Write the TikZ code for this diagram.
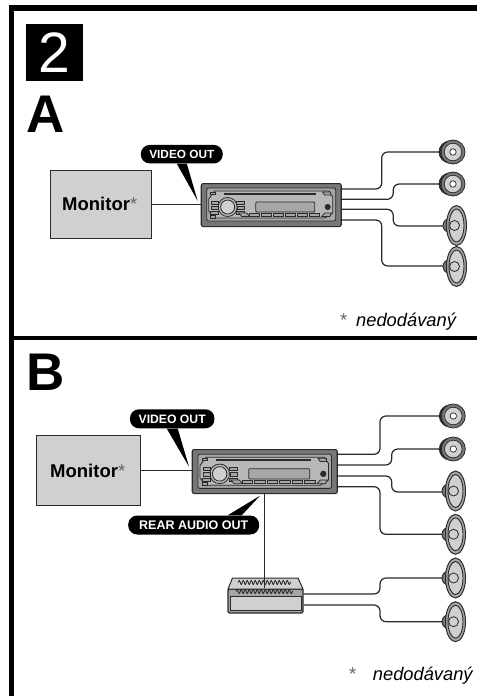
\documentclass[tikz,border=0pt]{standalone}
\usepackage{fontspec}
\setmainfont{Liberation Sans}
\usetikzlibrary{positioning,shapes.geometric,decorations.pathmorphing}
\definecolor{boxgray}{HTML}{D0D0D2}
\definecolor{wiregray}{HTML}{2A2A2A}
\definecolor{platemid}{HTML}{A6A6A8}
\definecolor{platedark}{HTML}{77777A}
\newcommand{\fsize}[1]{\fontsize{#1}{#1}\selectfont}

% front of the head unit, drawn over its body node
\newcommand{\radioface}[3]{
  \begin{scope}[shift={(#1,#2)},scale=#3,facepart/.style={draw=wiregray,line width=0.8pt,fill=platemid}]
    \draw [facepart,rounded corners=2pt] (6,5) -- (135,5) -- (135,38) -- (6,38) -- cycle;
    \draw [facepart,fill=platemid!80] (8,16) -- (14,8) -- (128,8) -- (132,14) -- (132,30) -- (124,35) -- (14,35) -- (8,28) -- cycle;
    \fill [wiregray] (23,9.5) rectangle (115,12);
    \draw [facepart,rounded corners=1pt] (55,19) rectangle (114,29);
    \draw [facepart,fill=boxgray] (27,24) circle (7);
    \draw [facepart,fill=none] (27,24) circle (9.5);
    \draw [facepart] (11,18) rectangle (18,21) (11,23) rectangle (18,26) (10,28) rectangle (18,31);
    \draw [facepart] (36,18) rectangle (44,21) (37,23) rectangle (44,26) (36,28) rectangle (44,31);
    \draw [facepart] (10,9) -- (15,9) -- (15,11) -- (10,11) -- cycle;
    \draw [facepart] (10,32) -- (15,32) -- (15,35) -- (10,35) -- cycle;
    \draw [facepart] (122,9) -- (130,9) -- (130,12) -- (124,12) -- cycle;
    \draw [facepart] (38,30) -- (46,30) -- (49,33.5) -- (41,33.5) -- cycle;
    \draw [facepart] (49,30) rectangle (59,33.5) (61,30) rectangle (71,33.5) (73,30) rectangle (83,33.5);
    \draw [facepart] (85,30) rectangle (95,33.5) (97,30) rectangle (107,33.5) (109,30) rectangle (119,33.5);
    \draw [facepart] (121,33.5) -- (124,30) -- (131,30) -- (129,33.5) -- cycle;
    \draw [facepart,fill=wiregray] (127,24) circle (2.6);
  \end{scope}
}

% round speaker: the node is the magnet behind the rim, the wire ends there
\newcommand{\roundspk}[3]{
  \node [circle,draw=wiregray,fill=wiregray,line width=0.8pt,minimum size=22pt,inner sep=0pt] (#1) at (#2-2,#3) {};
  \draw [draw=wiregray,fill=platedark,line width=0.8pt] (#2+1,#3) circle (12);
  \draw [draw=wiregray,fill=boxgray,line width=0.7pt] (#2+1,#3) circle (8.8);
  \draw [draw=wiregray,fill=white,line width=0.7pt] (#2+1,#3) circle (3.2);
}

% oval speaker: the node is the magnet behind the cone
\newcommand{\ovalspk}[3]{
  \node [circle,draw=wiregray,fill=platedark,line width=0.9pt,minimum size=14pt,inner sep=0pt] (#1) at (#2-5,#3) {};
  \draw [draw=wiregray,fill=platemid,line width=1pt] (#2+1.5,#3) ellipse (10 and 20);
  \draw [draw=wiregray,fill=boxgray,line width=0.9pt] (#2+1.5,#3) ellipse (7.5 and 16.5);
  \draw [draw=wiregray,fill=boxgray,line width=0.8pt] (#2-0.5,#3) circle (5);
}

\begin{document}
\begin{tikzpicture}[x=1pt,y=-1pt,
    wire/.style={draw=wiregray,line width=1.25pt,rounded corners=6pt},
    tvbox/.style={draw=wiregray,fill=boxgray,line width=1pt,inner sep=0pt},
    bodybox/.style={draw=wiregray,fill=platedark,line width=1.1pt,rounded corners=2pt,inner sep=0pt,anchor=north west},
    pill/.style={fill=black,text=white,rounded corners=9pt,inner sep=0pt,font=\bfseries},
    bigletter/.style={inner sep=0pt,font=\fsize{53}\bfseries,anchor=base west},
    tvlabel/.style={inner sep=0pt,font=\fsize{18.5}\bfseries,anchor=base west},
    remark/.style={inner sep=0pt,font=\fsize{18.3}\itshape,anchor=base west},
    star/.style={inner sep=0pt,text=black!60,font=\fsize{18.5},anchor=base west}]

  \useasboundingbox (0,0) rectangle (477,696);

  % frame and divider
  \fill [black] (9,5) rectangle (477,10.5);
  \fill [black] (9,5) rectangle (14,696);
  \fill [black] (9,336) rectangle (477,339.5);

  \node [fill=black,text=white,minimum size=57pt,inner sep=0pt,font=\fsize{57}] (stepno) at (54.5,52.5) {2};
  \node [bigletter] (partA) at (26.5,132) {A};
  \node [bigletter] (partB) at (26,390) {B};

  % part A
  \node [tvbox,minimum width=101pt,minimum height=68pt] (monA) at (101.2,204.8) {};
  \node [tvlabel] (monAtext) at (62,210.5) {Monitor};
  \node [star] (monAstar) at (130,210.5) {*};

  \node [bodybox,minimum width=140pt,minimum height=43pt] (radioA) at (200.7,183) {};
  \radioface{200.7}{183}{1}
  \draw [wire] (monA.east) -- (monA.east -| radioA.west);

  \node [pill,minimum width=82pt,minimum height=18.5pt,font=\fsize{11.8}\bfseries] (vidA) at (181.8,154.2) {VIDEO OUT};
  \coordinate (tipA) at (197.7,201);
  \fill [black] ([xshift=-5pt]vidA.south) -- (tipA) -- ([xshift=5pt]vidA.south) -- cycle;

  \coordinate (outA1) at (340.7,189);
  \coordinate (outA2) at (340.7,199.3);
  \coordinate (outA3) at (340.7,209.3);
  \coordinate (outA4) at (340.7,220);
  \draw [wire] (outA1) -- ++(41,0) |- (448,152);
  \draw [wire] (outA2) -- ++(52.5,0) |- (448,184);
  \draw [wire] (outA3) -- ++(52.5,0) |- (450,226);
  \draw [wire] (outA4) -- ++(41,0) |- (450,266);

  \roundspk{spkA1}{452}{152}
  \roundspk{spkA2}{452}{184}
  \ovalspk{spkA3}{455}{225.5}
  \ovalspk{spkA4}{455}{266.5}

  \node [star] (remAstar) at (340,326.5) {*};
  \node [remark] (remA) at (356,326.5) {nedodávaný};

  % part B
  \node [tvbox,minimum width=104pt,minimum height=70pt] (monB) at (88.7,470.7) {};
  \node [tvlabel] (monBtext) at (50,477.7) {Monitor};
  \node [star] (monBstar) at (118,477.7) {*};

  \node [bodybox,minimum width=145pt,minimum height=44pt] (radioB) at (191.7,449) {};
  \radioface{191.7}{449}{1.036}
  \draw [wire] (monB.east) -- (monB.east -| radioB.west);

  \node [pill,minimum width=84.5pt,minimum height=19pt,font=\fsize{12.2}\bfseries] (vidB) at (172.2,418.8) {VIDEO OUT};
  \coordinate (tipB) at (189,466.7);
  \fill [black] ([xshift=-5.5pt]vidB.south) -- (tipB) -- ([xshift=5.5pt]vidB.south) -- cycle;

  \node [pill,minimum width=131pt,minimum height=19pt,font=\fsize{12.5}\bfseries] (rearB) at (193.7,525) {REAR AUDIO OUT};
  \coordinate (tipR) at (260,495.7);
  \fill [black] ([xshift=34pt]rearB.north) -- (tipR) -- ([xshift=48pt]rearB.north) -- cycle;

  % amplifier
  \node [draw=wiregray,fill=platemid,line width=1.1pt,rounded corners=1.5pt,inner sep=0pt,
         minimum width=75pt,minimum height=24pt] (ampB) at (265.5,601) {};
  \draw [draw=wiregray,fill=boxgray,line width=1pt] (228,589) -- (232.5,578) -- (298,578) -- (303,589) -- cycle;
  \draw [draw=wiregray,fill=boxgray,line width=1pt] (230,596) rectangle (301,610);
  \draw [wiregray,line width=0.9pt,decorate,decoration={snake,amplitude=2pt,segment length=4pt}] (238,582.5) -- (291,582.5);
  \draw [wiregray,line width=0.9pt,decorate,decoration={snake,amplitude=2pt,segment length=4pt}] (236,591.5) -- (293,591.5);
  \draw [wire] (radioB.south) -- (radioB.south |- ampB.north);

  \coordinate (outB1) at (336.7,454.3);
  \coordinate (outB2) at (336.7,465);
  \coordinate (outB3) at (336.7,476);
  \coordinate (outB4) at (336.7,486.7);
  \draw [wire] (outB1) -- ++(43.3,0) |- (448,416);
  \draw [wire] (outB2) -- ++(55,0) |- (448,449);
  \draw [wire] (outB3) -- ++(55,0) |- (450,492);
  \draw [wire] (outB4) -- ++(43.3,0) |- (450,534.3);
  \coordinate (outB5) at (ampB.east |- 0,594);
  \coordinate (outB6) at (ampB.east |- 0,605);
  \draw [wire] (outB5) -- (380,594) |- (450,578);
  \draw [wire] (outB6) -- (380,605) |- (450,621.7);

  \roundspk{spkB1}{452.3}{416}
  \roundspk{spkB2}{452.3}{449}
  \ovalspk{spkB3}{454}{491}
  \ovalspk{spkB4}{454}{534.3}
  \ovalspk{spkB5}{454}{578}
  \ovalspk{spkB6}{454}{621.7}

  \node [star] (remBstar) at (349,680) {*};
  \node [remark] (remB) at (372.7,680) {nedodávaný};

\end{tikzpicture}
\end{document}
